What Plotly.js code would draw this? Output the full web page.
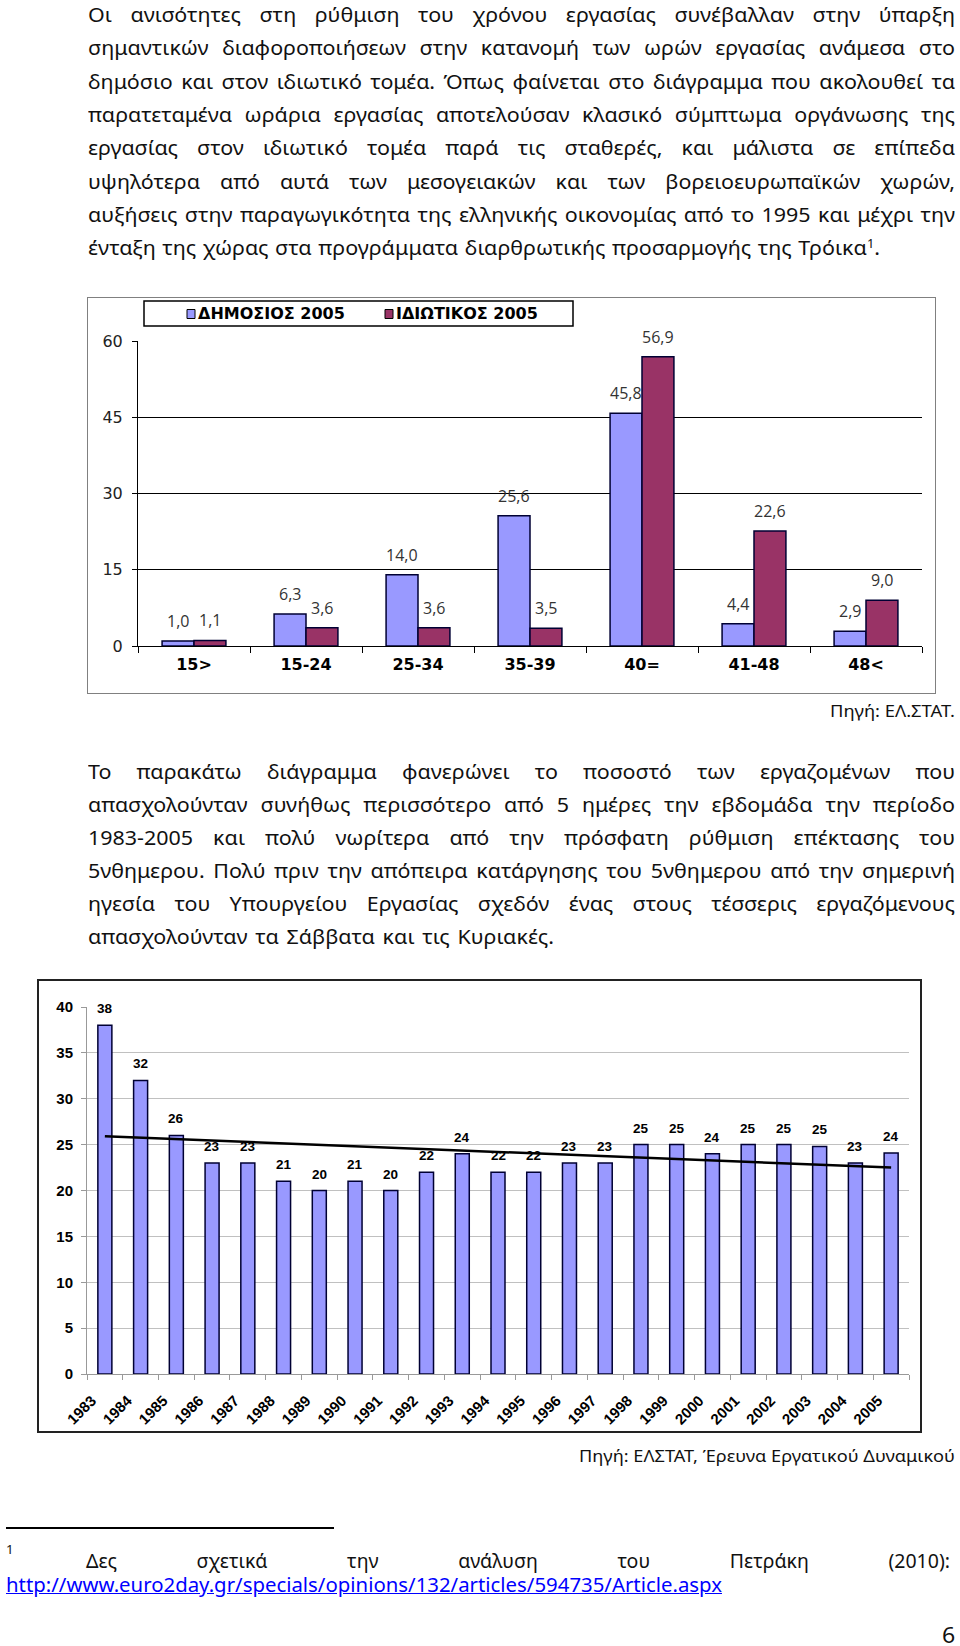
<!DOCTYPE html>
<html><head><meta charset="utf-8">
<script src="https://cdn.plot.ly/plotly-3.0.1.min.js"></script>
<style>
html,body{margin:0;padding:0;background:#fff;}
#page{position:relative;width:960px;height:1646px;overflow:hidden;background:#fff;}
.ln{position:absolute;white-space:nowrap;color:#111;font-family:"Noto Sans","Open Sans","DejaVu Sans",sans-serif;transform-origin:0 0;}
.ln sup{font-size:0.6em;vertical-align:0.6em;line-height:0}
.box{position:absolute;box-sizing:border-box;pointer-events:none}
#c1,#c2{position:absolute}
</style></head><body><div id="page">
<div id="c1" style="left:87px;top:297px;width:849px;height:397px"></div>
<div class="box" style="left:87px;top:297px;width:849px;height:397px;border:1.5px solid #808080"></div>
<div id="c2" style="left:38px;top:980px;width:883px;height:452px"></div>
<div class="box" style="left:37px;top:979px;width:885px;height:454px;border:2px solid #222"></div>
<div style="position:absolute;left:6px;top:1527px;width:328px;height:1.5px;background:#000"></div>
</div>
<script>
// ---------- Chart 1 data ----------
const ageGroups = ['15>', '15-24', '25-34', '35-39', '40=', '41-48', '48<'];
const publicSector2005 = [1.0, 6.3, 14.0, 25.6, 45.8, 4.4, 2.9];
const privateSector2005 = [1.1, 3.6, 3.6, 3.5, 56.9, 22.6, 9.0];
const seriesNames = ['ΔΗΜΟΣΙΟΣ 2005', 'ΙΔΙΩΤΙΚΟΣ 2005'];
const chart1Ticks = [0, 15, 30, 45, 60];

// ---------- Chart 2 data ----------
const years = ['1983','1984','1985','1986','1987','1988','1989','1990','1991','1992','1993','1994',
               '1995','1996','1997','1998','1999','2000','2001','2002','2003','2004','2005'];
const weekendWorkers = [38, 32, 26, 23, 23, 21, 20, 21, 20, 22, 24, 22, 22, 23, 23, 25, 25, 24, 25, 25, 24.8, 23, 24.1];
const trendYears = ['1983', '2005'];
const trendValues = [25.9, 22.5];
const chart2Ticks = [0, 5, 10, 15, 20, 25, 30, 35, 40];

// ---------- Text ----------
const para1 = [
 'Οι ανισότητες στη ρύθμιση του χρόνου εργασίας συνέβαλλαν στην ύπαρξη',
 'σημαντικών διαφοροποιήσεων στην κατανομή των ωρών εργασίας ανάμεσα στο',
 'δημόσιο και στον ιδιωτικό τομέα. Όπως φαίνεται στο διάγραμμα που ακολουθεί τα',
 'παρατεταμένα ωράρια εργασίας αποτελούσαν κλασικό σύμπτωμα οργάνωσης της',
 'εργασίας στον ιδιωτικό τομέα παρά τις σταθερές, και μάλιστα σε επίπεδα',
 'υψηλότερα από αυτά των μεσογειακών και των βορειοευρωπαϊκών χωρών,',
 'αυξήσεις στην παραγωγικότητα της ελληνικής οικονομίας από το 1995 και μέχρι την',
 'ένταξη της χώρας στα προγράμματα διαρθρωτικής προσαρμογής της Τρόικα<sup>1</sup>.'
];
const para2 = [
 'Το παρακάτω διάγραμμα φανερώνει το ποσοστό των εργαζομένων που',
 'απασχολούνταν συνήθως περισσότερο από 5 ημέρες την εβδομάδα την περίοδο',
 '1983-2005 και πολύ νωρίτερα από την πρόσφατη ρύθμιση επέκτασης του',
 '5νθημερου. Πολύ πριν την απόπειρα κατάργησης του 5νθημερου από την σημερινή',
 'ηγεσία του Υπουργείου Εργασίας σχεδόν ένας στους τέσσερις εργαζόμενους',
 'απασχολούνταν τα Σάββατα και τις Κυριακές.'
];
const source1 = 'Πηγή: ΕΛ.ΣΤΑΤ.';
const source2 = 'Πηγή: ΕΛΣΤΑΤ, Έρευνα Εργατικού Δυναμικού';
const footnoteMark = '1';
const footnoteText = 'Δες σχετικά την ανάλυση του Πετράκη (2010):';
const footnoteUrl = 'http://www.euro2day.gr/specials/opinions/132/articles/594735/Article.aspx';
const pageNumber = '6';

const page = document.getElementById('page');
const BODY = 19.5;

function makeLine(html, size){
  const d = document.createElement('div');
  d.className = 'ln';
  d.innerHTML = html;
  d.style.fontSize = size + 'px';
  d.style.lineHeight = (1.4*size) + 'px';
  page.appendChild(d);
  return d;
}
function place(l, S0){
  const d = makeLine(l.html, l.size);
  if (l.color) d.style.color = l.color;
  if (l.underline) d.style.textDecoration = 'underline';
  d.style.top = (l.cy - 0.82*l.size) + 'px';
  const w = d.getBoundingClientRect().width;
  const n = (d.textContent.match(/ /g) || []).length;
  let s = l.noScale ? 1 : S0, ws = 0, width;
  if (l.mode === 'ws' && n > 0) {
    ws = (l.target / s - w) / n;
    if (ws < -3) { ws = -3; s = l.target / (w + ws*n); }
    width = l.target;
  } else if (l.mode === 'scale') {
    s = l.target / w; width = l.target;
  } else {
    width = w * s;
  }
  d.style.wordSpacing = ws + 'px';
  d.style.transform = 'scaleX(' + s + ')';
  d.style.left = (l.align === 'right' ? l.x - width : l.x) + 'px';
}

function drawText(){
  const probe = makeLine(para2[5], BODY);
  let S0 = 466 / probe.getBoundingClientRect().width;
  page.removeChild(probe);
  S0 = Math.max(0.78, Math.min(1.1, S0));
  const L = [];
  para1.forEach((t, i) => L.push({html:t, x:88, cy:17 + i*33.33, size:BODY, mode:'ws', target: i < 7 ? 867 : 792}));
  L.push({html:source1, x:955, cy:713, size:17, mode:'scale', target:125, align:'right'});
  para2.forEach((t, i) => L.push({html:t, x:88, cy:774 + i*33, size:BODY, mode:'ws', target: i < 5 ? 867 : 466}));
  L.push({html:source2, x:955, cy:1458, size:17, mode:'scale', target:376, align:'right'});
  L.push({html:footnoteMark, x:6, cy:1552, size:12, mode:'none'});
  L.push({html:footnoteText, x:86, cy:1563, size:BODY, mode:'ws', target:864, noScale:true});
  L.push({html:footnoteUrl, x:6, cy:1587, size:BODY, mode:'scale', target:716, color:'#0000ff', underline:true});
  L.push({html:pageNumber, x:955, cy:1638, size:21, mode:'none', align:'right'});
  L.forEach(l => place(l, S0));
}

const fmt1 = v => v.toFixed(1).replace('.', ',');
const cfg = {staticPlot:true, displayModeBar:false};

function drawChart1(){
  const W = 849, H = 397, m = {l:51, r:14, t:44, b:48};
  const pw = W - m.l - m.r, ph = H - m.t - m.b;
  const fx = px => (px - (87 + m.l)) / pw;        // page px -> paper x
  const fy = py => ((297 + m.t + ph) - py) / ph;  // page py -> paper y
  const colors = ['#9999FF', '#993366'];
  const data = [publicSector2005, privateSector2005].map((vals, k) => ({
    type:'bar', x:ageGroups, y:vals, name:seriesNames[k],
    marker:{color:colors[k], line:{color:'#000033', width:1.5}}, hoverinfo:'skip'
  }));
  const ann = [];
  [publicSector2005, privateSector2005].forEach((vals, k) => {
    ageGroups.forEach((c, i) => ann.push({
      x:i, y:vals[i], xref:'x', yref:'y', text:fmt1(vals[i]), showarrow:false,
      xshift: k === 0 ? -16 : 16, yshift:20, yanchor:'middle', xanchor:'center',
      font:{family:'Open Sans, DejaVu Sans, sans-serif', size:16, color:'#333'}
    }));
  });
  const legX = [196, 394];
  seriesNames.forEach((nm, k) => ann.push({
    x:fx(legX[k]), y:fy(314), xref:'paper', yref:'paper', text:nm, showarrow:false,
    xanchor:'left', yanchor:'middle',
    font:{family:'DejaVu Sans, sans-serif', size:16, weight:'bold', color:'#000'}
  }));
  const shapes = [
    {type:'rect', xref:'paper', yref:'paper', x0:fx(144), x1:fx(573), y0:fy(326), y1:fy(301),
     line:{color:'#000', width:1.5}, fillcolor:'#fff'}
  ];
  legX.forEach((x, k) => shapes.push({type:'rect', xref:'paper', yref:'paper',
    x0:fx(x - 9), x1:fx(x - 1), y0:fy(318.5), y1:fy(309.5),
    line:{color:'#000', width:1}, fillcolor:colors[k]}));
  const layout = {
    width:W, height:H, margin:m, paper_bgcolor:'rgba(0,0,0,0)', plot_bgcolor:'rgba(0,0,0,0)',
    barmode:'group', bargap:0.43, bargroupgap:0, showlegend:false,
    xaxis:{type:'category', range:[-0.5, ageGroups.length - 0.5], tickson:'boundaries', ticks:'outside', ticklen:6, tickcolor:'#000', tickwidth:1,
      showline:true, linecolor:'#000', linewidth:1, showgrid:false,
      tickfont:{family:'DejaVu Sans, sans-serif', size:16, weight:'bold', color:'#000'}, ticklabelstandoff:4},
    yaxis:{range:[0, 60], tickvals:chart1Ticks, ticks:'outside', ticklen:5, tickcolor:'#000',
      showline:true, linecolor:'#000', linewidth:1, showgrid:true, gridcolor:'#000', gridwidth:1, zeroline:false,
      tickfont:{family:'DejaVu Sans, sans-serif', size:16, color:'#222'}, ticklabelstandoff:6},
    annotations:ann, shapes:shapes
  };
  return Plotly.newPlot('c1', data, layout, cfg);
}

function drawChart2(){
  const W = 883, H = 452, m = {l:49, r:12, t:27, b:58};
  const data = [
    {type:'bar', x:years, y:weekendWorkers, marker:{color:'#9999FF', line:{color:'#000033', width:1.5}}, hoverinfo:'skip'},
    {type:'scatter', mode:'lines', x:trendYears, y:trendValues, line:{color:'#000', width:2.5}, hoverinfo:'skip'}
  ];
  const ann = years.map((yr, i) => ({
    x:i, y:weekendWorkers[i], xref:'x', yref:'y', text:String(Math.round(weekendWorkers[i])),
    showarrow:false, yshift:16.5, yanchor:'middle',
    font:{family:'Liberation Sans, Arial, sans-serif', size:13.5, weight:'bold', color:'#000'}
  }));
  const layout = {
    width:W, height:H, margin:m, paper_bgcolor:'rgba(0,0,0,0)', plot_bgcolor:'rgba(0,0,0,0)',
    bargap:0.608, showlegend:false,
    xaxis:{type:'category', range:[-0.5, years.length - 0.5], categoryorder:'array', categoryarray:years,
      tickson:'boundaries', ticks:'outside', ticklen:5, tickcolor:'#999', tickwidth:1,
      showline:true, linecolor:'#999', linewidth:1, showgrid:false, tickangle:-45,
      tickfont:{family:'Liberation Sans, Arial, sans-serif', size:15, weight:'bold', color:'#000'},
      ticklabelstandoff:11, ticklabelshift:-13},
    yaxis:{range:[0, 40], tickvals:chart2Ticks, ticks:'outside', ticklen:5, tickcolor:'#999',
      showline:true, linecolor:'#999', linewidth:1, showgrid:true, gridcolor:'#c0c0c0', gridwidth:1, zeroline:false,
      tickfont:{family:'Liberation Sans, Arial, sans-serif', size:15, weight:'bold', color:'#000'}, ticklabelstandoff:5},
    annotations:ann
  };
  return Plotly.newPlot('c2', data, layout, cfg);
}

(document.fonts ? document.fonts.ready : Promise.resolve()).then(() => {
  drawText();
  drawChart1();
  drawChart2();
});
</script>
</body></html>
